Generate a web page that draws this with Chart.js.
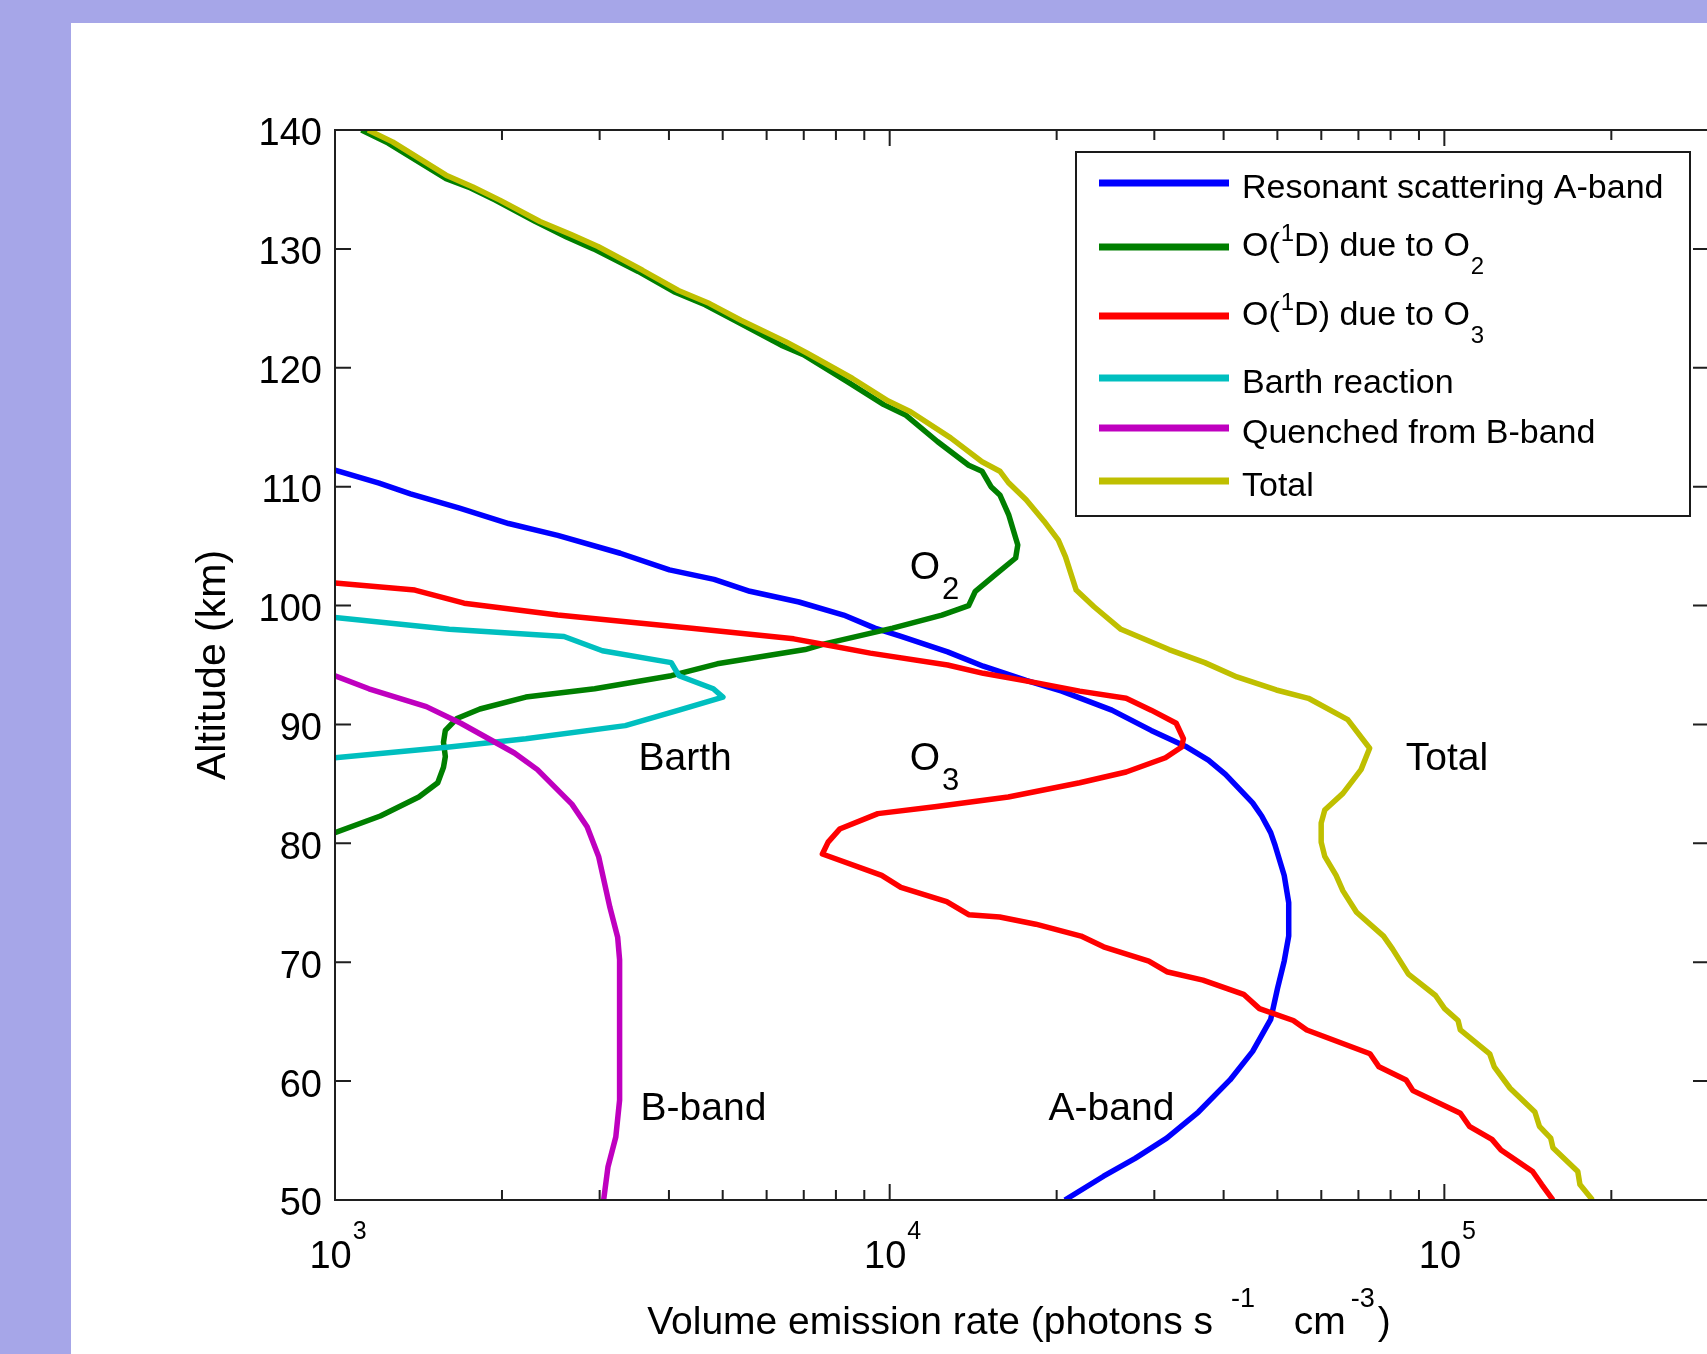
<!DOCTYPE html>
<html>
<head>
<meta charset="utf-8">
<script src="https://cdn.jsdelivr.net/npm/chart.js@4.4.1/dist/chart.umd.min.js"></script>
<style>
  html, body { margin: 0; padding: 0; overflow: hidden; background: #a6a6e8; width: 1707px; height: 1354px; }
  #panel { position: absolute; left: 71px; top: 23px; right: 0; bottom: 0; background: #fff; }
  #chart { position: absolute; left: 0; top: 0; }
</style>
</head>
<body>
<div id="panel"></div>
<canvas id="chart" width="1720" height="1354"></canvas>
<script>
// altitude (km) and volume emission rate (photons s-1 cm-3)
const aBandAlt  = [111.4, 110.3, 109.4, 108.2, 106.9, 105.9, 104.4, 103.0, 102.2, 101.2, 100.3, 99.2, 98.1, 97.4, 96.1, 94.9, 93.7, 92.8, 91.2, 89.5, 88.1, 87.0, 85.8, 83.4, 82.3, 80.9, 79.8, 77.3, 75.0, 72.2, 70.1, 67.8, 65.2, 62.5, 60.1, 57.4, 55.2, 53.5, 52.0, 50.0];
const aBandRate = [1000, 1201, 1368, 1677, 2056, 2521, 3268, 4008, 4825, 5596, 6862, 8260, 9404, 10486, 12720, 14750, 17620, 20430, 25150, 29610, 34350, 37550, 40310, 45120, 46850, 48630, 49550, 51440, 52410, 52410, 51440, 50030, 48630, 45120, 41070, 36020, 31590, 27700, 24300, 20700];

const o2Alt  = [140.0, 138.9, 135.9, 135.2, 134.1, 132.3, 131.0, 130.0, 128.1, 126.4, 125.3, 123.9, 121.9, 121.1, 118.8, 116.9, 116.0, 113.8, 111.8, 111.3, 110.0, 109.3, 107.6, 105.1, 104.0, 102.6, 101.2, 100.0, 99.2, 98.1, 96.8, 96.3, 95.1, 94.1, 93.0, 92.3, 91.3, 90.5, 89.5, 88.5, 87.3, 86.4, 85.1, 83.9, 82.3, 80.9];
const o2Rate = [1116, 1247, 1586, 1741, 1945, 2298, 2615, 2925, 3521, 4083, 4648, 5293, 6373, 6990, 8414, 9759, 10705, 12190, 13880, 14670, 15230, 15800, 16400, 17020, 16870, 15510, 14270, 13880, 12420, 10125, 7665, 7040, 4888, 4038, 2939, 2208, 1825, 1659, 1581, 1569, 1581, 1569, 1532, 1416, 1207, 1000];

const o3Alt  = [101.9, 101.3, 100.2, 99.2, 98.1, 97.2, 96.7, 96.0, 95.0, 94.3, 93.5, 92.8, 92.2, 91.2, 90.1, 88.8, 88.1, 87.2, 86.0, 85.1, 83.9, 83.1, 82.5, 81.2, 80.1, 79.1, 77.3, 76.3, 75.1, 74.0, 73.8, 73.2, 72.2, 71.3, 70.1, 69.2, 68.5, 67.3, 66.1, 65.1, 64.3, 62.3, 61.2, 60.1, 59.2, 57.3, 56.2, 55.1, 54.2, 52.4, 51.3, 50.0];
const o3Rate = [1000, 1393, 1709, 2521, 4396, 6716, 7665, 9226, 12720, 14750, 18420, 22010, 26690, 29610, 32850, 33850, 33600, 31420, 26690, 22010, 16360, 12160, 9522, 8125, 7745, 7563, 9674, 10476, 12670, 13880, 15790, 18340, 22130, 24300, 29320, 31590, 36710, 43460, 46410, 53420, 56490, 73450, 76240, 85320, 87770, 106870, 110950, 121850, 126500, 144260, 149810, 157000];

const barthAlt  = [99.0, 98.0, 97.4, 96.2, 95.2, 94.1, 93.0, 92.3, 91.2, 89.9, 88.8, 88.1, 87.2];
const barthRate = [1000, 1607, 2588, 3034, 4038, 4169, 4809, 5004, 4169, 3337, 2208, 1607, 1000];

const bBandAlt  = [94.1, 93.0, 91.5, 90.1, 87.6, 86.2, 83.3, 81.4, 78.9, 74.6, 72.1, 70.2, 58.4, 55.3, 52.8, 50.0];
const bBandRate = [1000, 1151, 1461, 1686, 2106, 2317, 2673, 2848, 2987, 3131, 3233, 3259, 3259, 3208, 3106, 3050];

const totalAlt  = [140.0, 139.0, 136.2, 135.2, 134.1, 132.3, 131.2, 130.2, 128.2, 126.5, 125.4, 124.0, 122.2, 121.2, 119.1, 117.2, 116.3, 114.1, 112.1, 111.3, 110.3, 108.9, 107.1, 105.5, 104.1, 101.3, 99.9, 98.0, 96.3, 95.2, 94.0, 92.9, 92.2, 90.4, 88.0, 86.2, 84.2, 82.8, 81.7, 80.1, 78.9, 77.3, 76.0, 74.2, 72.2, 71.1, 69.0, 67.2, 66.1, 65.1, 64.3, 62.3, 61.2, 59.4, 57.4, 56.2, 55.2, 54.4, 52.4, 51.3, 50.0];
const totalRate = [1147, 1270, 1586, 1773, 1982, 2342, 2666, 2980, 3585, 4160, 4735, 5393, 6493, 7119, 8573, 9943, 10906, 12880, 14670, 15800, 16400, 17620, 18980, 20140, 20750, 21690, 23360, 26120, 31890, 36990, 42270, 49780, 56880, 66960, 73330, 70760, 65640, 60870, 59970, 59970, 60870, 63800, 65640, 69450, 77690, 80680, 86140, 96410, 100100, 105850, 106870, 120700, 123030, 131360, 145630, 148380, 155500, 156930, 174000, 175560, 185000];

// ^{..} superscript, _{..} subscript
const seriesLabels = ['Resonant scattering A-band', 'O(^{1}D) due to O_{2}', 'O(^{1}D) due to O_{3}', 'Barth reaction', 'Quenched from B-band', 'Total'];
const seriesColors = ['#0000ff', '#007f00', '#ff0000', '#00bfbf', '#bf00bf', '#bfbf00'];

const xMajorTicks = [1e3, 1e4, 1e5];
const xMinorTicks = [2e3, 3e3, 4e3, 5e3, 6e3, 7e3, 8e3, 9e3, 2e4, 3e4, 4e4, 5e4, 6e4, 7e4, 8e4, 9e4, 2e5, 3e5];

// in-plot labels, anchored at (rate, altitude) = left end of text baseline
const noteLabels = ['O_{2}', 'O_{3}', 'Barth', 'B-band', 'A-band', 'Total'];
const noteRate   = [10870, 10870, 3525, 3556, 19340, 85200];
const noteAlt    = [102.2, 86.2, 86.2, 56.7, 56.7, 86.2];

const xTitle = 'Volume emission rate (photons s^{-1} cm^{-3})';
const yTitle = 'Altitude (km)';

const FONT = "'Liberation Sans', Arial, sans-serif";

// draws text with ^{} / _{} pieces; o.gaps (optional) gives the space before each piece
function drawTex(ctx, tex, x, y, o) {
  const parts = [];
  const re = /([\^_])\{([^}]*)\}/g;
  let last = 0, m;
  while ((m = re.exec(tex))) {
    if (m.index > last) parts.push({ t: tex.slice(last, m.index), k: '' });
    parts.push({ t: m[2], k: m[1] });
    last = re.lastIndex;
  }
  if (last < tex.length) parts.push({ t: tex.slice(last), k: '' });
  const fontFor = k => (k ? o.scriptSize : o.size) + 'px ' + FONT;
  let total = 0;
  parts.forEach((p, i) => {
    ctx.font = fontFor(p.k);
    p.w = ctx.measureText(p.t).width;
    if (o.gaps) p.pre = o.gaps[i] || 0;
    else p.pre = p.k ? (o.gapBefore || 0) : (i > 0 && parts[i - 1].k ? (o.gapAfter || 0) : 0);
    total += p.pre + p.w;
  });
  let cx = o.align === 'center' ? x - total / 2 : x;
  ctx.fillStyle = '#000';
  ctx.textBaseline = 'alphabetic';
  ctx.textAlign = 'left';
  parts.forEach(p => {
    cx += p.pre;
    ctx.font = fontFor(p.k);
    const dy = p.k === '^' ? -o.supRise : (p.k === '_' ? o.subDrop : 0);
    ctx.fillText(p.t, cx, y + dy);
    cx += p.w;
  });
}

const matlabAxes = {
  id: 'matlabAxes',
  afterDatasetsDraw(chart) {
    const ctx = chart.ctx;
    const { left, right, top, bottom } = chart.chartArea;
    const xs = chart.scales.x, ys = chart.scales.y;
    ctx.save();
    ctx.strokeStyle = '#1f1f1f';
    ctx.lineWidth = 2;
    ctx.beginPath();
    ys.ticks.forEach(t => {
      const py = ys.getPixelForValue(t.value);
      ctx.moveTo(left, py); ctx.lineTo(left + 16, py);
      ctx.moveTo(right, py); ctx.lineTo(right - 16, py);
    });
    xMajorTicks.forEach(v => {
      const px = xs.getPixelForValue(v);
      ctx.moveTo(px, bottom); ctx.lineTo(px, bottom - 16);
      ctx.moveTo(px, top); ctx.lineTo(px, top + 16);
    });
    xMinorTicks.forEach(v => {
      const px = xs.getPixelForValue(v);
      ctx.moveTo(px, bottom); ctx.lineTo(px, bottom - 10);
      ctx.moveTo(px, top); ctx.lineTo(px, top + 10);
    });
    ctx.stroke();
    ctx.strokeRect(left, top, right - left, bottom - top);
    ctx.restore();
  },
  afterDraw(chart) {
    const ctx = chart.ctx;
    const { left, right, bottom } = chart.chartArea;
    const xs = chart.scales.x, ys = chart.scales.y;
    ctx.save();

    // x tick labels 10^n
    xMajorTicks.forEach(v => {
      const px = xs.getPixelForValue(v);
      drawTex(ctx, '10^{' + Math.round(Math.log10(v)) + '}', px + 3, bottom + 68,
        { size: 38, scriptSize: 25, supRise: 29, align: 'center', gapBefore: 1 });
    });

    // x title
    drawTex(ctx, xTitle, (left + right) / 2 - 3, bottom + 134,
      { size: 39, scriptSize: 27, supRise: 27, align: 'center', gaps: [0, 18, 28, 5, 3] });

    // in-plot labels
    noteLabels.forEach((t, i) => {
      drawTex(ctx, t, xs.getPixelForValue(noteRate[i]), ys.getPixelForValue(noteAlt[i]),
        { size: 39, scriptSize: 31, subDrop: 20, gapBefore: 2 });
    });

    // legend
    const lg = { x: 1076, y: 152, w: 614, h: 364 };
    const rowY = [31, 95, 164, 226, 276, 329];
    ctx.fillStyle = '#fff';
    ctx.fillRect(lg.x, lg.y, lg.w, lg.h);
    ctx.strokeStyle = '#1a1a1a';
    ctx.lineWidth = 2;
    ctx.strokeRect(lg.x, lg.y, lg.w, lg.h);
    seriesLabels.forEach((lab, i) => {
      const y = lg.y + rowY[i];
      ctx.strokeStyle = seriesColors[i];
      ctx.lineWidth = 7;
      ctx.beginPath();
      ctx.moveTo(lg.x + 23, y);
      ctx.lineTo(lg.x + 153, y);
      ctx.stroke();
      const scripted = /[\^_]\{/.test(lab);
      drawTex(ctx, lab, lg.x + 166, y + (scripted ? 9 : 15),
        { size: 34, scriptSize: 24, supRise: 15, subDrop: 18, gapBefore: 1 });
    });
    ctx.restore();
  }
};

const series = [
  [aBandAlt, aBandRate], [o2Alt, o2Rate], [o3Alt, o3Rate],
  [barthAlt, barthRate], [bBandAlt, bBandRate], [totalAlt, totalRate]
];

const datasets = series.map((s, i) => ({
  label: seriesLabels[i].replace(/[\^_]\{([^}]*)\}/g, '$1'),
  data: s[0].map((a, k) => ({ x: s[1][k], y: a })),
  borderColor: seriesColors[i],
  borderWidth: 5.5,
  borderJoinStyle: 'round',
  pointRadius: 0,
  fill: false,
  tension: 0,
  order: series.length - 1 - i
}));

new Chart(document.getElementById('chart').getContext('2d'), {
  type: 'line',
  data: { datasets: datasets },
  options: {
    responsive: false,
    animation: false,
    layout: { padding: { left: 0, top: 130, right: 11, bottom: 0 } },
    plugins: { legend: { display: false }, tooltip: { enabled: false } },
    scales: {
      x: {
        type: 'logarithmic',
        min: 1000,
        max: 300000,
        grid: { display: false, drawTicks: false },
        border: { display: false },
        ticks: { display: false },
        afterFit: s => { s.height = 154; }
      },
      y: {
        type: 'linear',
        min: 50,
        max: 140,
        grid: { display: false, drawTicks: false },
        border: { display: false },
        ticks: { stepSize: 10, padding: 13, labelOffset: 5, color: '#000', font: { family: FONT, size: 38 } },
        title: { display: true, text: yTitle, color: '#000', font: { family: FONT, size: 41 }, padding: { top: 189, bottom: 0 } },
        afterFit: s => { s.width = 335; }
      }
    }
  },
  plugins: [matlabAxes]
});
</script>
</body>
</html>
